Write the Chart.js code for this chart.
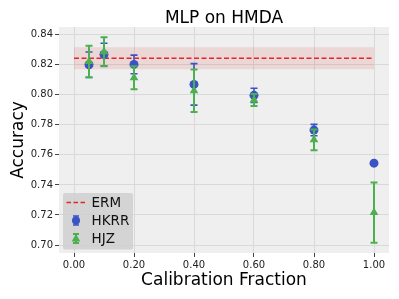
<!DOCTYPE html>
<html><head><meta charset="utf-8">
<script src="https://cdn.jsdelivr.net/npm/chart.js@4"></script>
<style>html,body{margin:0;padding:0;background:#fff}#wrap{width:399px;height:299px}</style>
</head><body><div id="wrap"><canvas id="c" width="399" height="299"></canvas></div>
<script>
const fractions = [0.05, 0.1, 0.2, 0.4, 0.6, 0.8, 1.0];
const hkrrMean = [0.8200, 0.8268, 0.8202, 0.8069, 0.7996, 0.7765, 0.7545];
const hkrrErr  = [0.0085, 0.0075, 0.0062, 0.0138, 0.0047, 0.0038, 0.0006];
const hjzMean  = [0.8221, 0.8286, 0.8113, 0.8027, 0.7965, 0.7700, 0.7216];
const hjzErr   = [0.0105, 0.0097, 0.0077, 0.0142, 0.0040, 0.0069, 0.0201];
const ermX = [0.0, 1.0];
const ermMean = 0.8243;
const ermStd = 0.0073;
const xTicks = [0.0, 0.2, 0.4, 0.6, 0.8, 1.0];
const yTicks = [0.70, 0.72, 0.74, 0.76, 0.78, 0.80, 0.82, 0.84];
const titleText = 'MLP on HMDA';
const xLabel = 'Calibration Fraction';
const yLabel = 'Accuracy';

const BLUE = '#3a53c4';
const GREEN = '#4caf50';
const RED = '#e8242a';
const FONT = "'DejaVu Sans', sans-serif";

const pts = (xs, ys) => xs.map((x, i) => ({x, y: ys[i]}));

function drawTri(ctx, x, y, r) {
  ctx.beginPath();
  ctx.moveTo(x, y - r);
  ctx.lineTo(x + r * 0.866, y + r * 0.5);
  ctx.lineTo(x - r * 0.866, y + r * 0.5);
  ctx.closePath();
  ctx.fill();
}

const errorBars = {
  id: 'errorBars',
  beforeDatasetDraw(chart, args) {
    const ds = chart.data.datasets[args.index];
    if (!ds.errors) return;
    const xs = chart.scales.x, ys = chart.scales.y, ctx = chart.ctx;
    ctx.save();
    ctx.strokeStyle = ds.borderColor;
    ctx.lineWidth = ds.errWidth;
    ds.data.forEach((p, i) => {
      const px = xs.getPixelForValue(p.x);
      const top = ys.getPixelForValue(p.y + ds.errors[i]);
      const bot = ys.getPixelForValue(p.y - ds.errors[i]);
      ctx.beginPath();
      ctx.moveTo(px, top); ctx.lineTo(px, bot);
      ctx.moveTo(px - 3.5, top); ctx.lineTo(px + 3.5, top);
      ctx.moveTo(px - 3.5, bot); ctx.lineTo(px + 3.5, bot);
      ctx.stroke();
    });
    ctx.restore();
  }
};

const decor = {
  id: 'decor',
  beforeDraw(chart) {
    const {ctx, chartArea: a} = chart;
    ctx.save();
    ctx.fillStyle = '#efefef';
    ctx.fillRect(a.left, a.top, a.right - a.left, a.bottom - a.top);
    ctx.restore();
  },
  afterDraw(chart) {
    const {ctx, chartArea: a} = chart;
    ctx.save();
    // title
    ctx.fillStyle = '#000';
    ctx.font = '17px ' + FONT;
    ctx.textAlign = 'center';
    ctx.textBaseline = 'alphabetic';
    ctx.fillText(titleText, (a.left + a.right) / 2, 22.5);
    // legend
    const lx = a.left + 4, ly = a.bottom - 60, lw = 70, lh = 56.5;
    ctx.fillStyle = 'rgba(205,205,205,0.8)';
    ctx.beginPath();
    ctx.roundRect(lx, ly, lw, lh, 2);
    ctx.fill();
    const symX = lx + 13, txtX = lx + 28.5;
    const rows = [ly + 9.5, ly + 27.5, ly + 45.5];
    ctx.strokeStyle = RED; ctx.lineWidth = 1.6; ctx.setLineDash([4.5, 2.5]);
    ctx.beginPath(); ctx.moveTo(lx + 3.5, rows[0]); ctx.lineTo(lx + 22, rows[0]); ctx.stroke();
    ctx.setLineDash([]);
    // HKRR symbol
    ctx.strokeStyle = BLUE; ctx.fillStyle = BLUE; ctx.lineWidth = 1.5;
    ctx.beginPath();
    ctx.moveTo(symX, rows[1] - 4.5); ctx.lineTo(symX, rows[1] + 4.5);
    ctx.moveTo(symX - 3, rows[1] - 4.5); ctx.lineTo(symX + 3, rows[1] - 4.5);
    ctx.moveTo(symX - 3, rows[1] + 4.5); ctx.lineTo(symX + 3, rows[1] + 4.5);
    ctx.stroke();
    ctx.beginPath(); ctx.arc(symX, rows[1], 4, 0, Math.PI * 2); ctx.fill();
    // HJZ symbol
    ctx.strokeStyle = GREEN; ctx.fillStyle = GREEN; ctx.lineWidth = 2;
    ctx.beginPath();
    ctx.moveTo(symX, rows[2] - 4.5); ctx.lineTo(symX, rows[2] + 4.5);
    ctx.moveTo(symX - 3, rows[2] - 4.5); ctx.lineTo(symX + 3, rows[2] - 4.5);
    ctx.moveTo(symX - 3, rows[2] + 4.5); ctx.lineTo(symX + 3, rows[2] + 4.5);
    ctx.stroke();
    drawTri(ctx, symX, rows[2] + 0.5, 5);
    ctx.fillStyle = '#111';
    ctx.font = '13.5px ' + FONT;
    ctx.textAlign = 'left';
    ctx.textBaseline = 'middle';
    ctx.fillText('ERM', txtX, rows[0] + 0.5);
    ctx.fillText('HKRR', txtX, rows[1] + 0.5);
    ctx.fillText('HJZ', txtX, rows[2] + 0.5);
    ctx.restore();
  }
};

new Chart(document.getElementById('c'), {
  type: 'scatter',
  data: {
    datasets: [
      { label: 'ERM band upper', data: pts(ermX, ermX.map(() => ermMean + ermStd)),
        showLine: true, pointRadius: 0, borderWidth: 0, borderColor: 'rgba(0,0,0,0)', order: 5 },
      { label: 'ERM band lower', data: pts(ermX, ermX.map(() => ermMean - ermStd)),
        showLine: true, pointRadius: 0, borderWidth: 0, borderColor: 'rgba(0,0,0,0)',
        fill: 0, backgroundColor: 'rgba(214,39,40,0.12)', order: 4 },
      { label: 'ERM', data: pts(ermX, ermX.map(() => ermMean)),
        showLine: true, pointRadius: 0, borderWidth: 1.6, borderColor: RED, borderDash: [5, 2.5], order: 3 },
      { label: 'HKRR', data: pts(fractions, hkrrMean), errors: hkrrErr, errWidth: 1.6,
        pointStyle: 'circle', pointRadius: 4.5, backgroundColor: BLUE, borderColor: BLUE, borderWidth: 0, order: 2 },
      { label: 'HJZ', data: pts(fractions, hjzMean), errors: hjzErr, errWidth: 2,
        pointStyle: 'triangle', pointRadius: 5, backgroundColor: GREEN, borderColor: GREEN, borderWidth: 0, order: 1 }
    ]
  },
  options: {
    responsive: false,
    animation: false,
    events: [],
    layout: { padding: { left: 0, top: 27, right: 10, bottom: 0 } },
    plugins: { legend: { display: false }, tooltip: { enabled: false }, title: { display: false } },
    scales: {
      x: {
        type: 'linear', min: -0.05, max: 1.05,
        afterBuildTicks: s => { s.ticks = xTicks.map(v => ({value: v})); },
        afterFit: s => { s.height = 46; },
        grid: { color: '#d9d9d9', lineWidth: 1, tickLength: 4, tickColor: '#444', drawTicks: true },
        border: { display: false },
        ticks: { color: '#222', font: { family: FONT, size: 10 }, padding: 2, maxRotation: 0,
                 callback: v => v.toFixed(2) },
        title: { display: true, text: xLabel, color: '#000', font: { family: FONT, size: 17 }, padding: { top: 0, bottom: 8 } }
      },
      y: {
        type: 'linear', min: 0.6947, max: 0.8451,
        afterBuildTicks: s => { s.ticks = yTicks.map(v => ({value: v})); },
        afterFit: s => { s.width = 59; },
        grid: { color: '#d9d9d9', lineWidth: 1, tickLength: 4, tickColor: '#444', drawTicks: true },
        border: { display: false },
        ticks: { color: '#222', font: { family: FONT, size: 10 }, padding: 2,
                 callback: v => v.toFixed(2) },
        title: { display: true, text: yLabel, color: '#000', font: { family: FONT, size: 17 }, padding: { top: 8, bottom: 0 } }
      }
    }
  },
  plugins: [decor, errorBars]
});
</script></body></html>
